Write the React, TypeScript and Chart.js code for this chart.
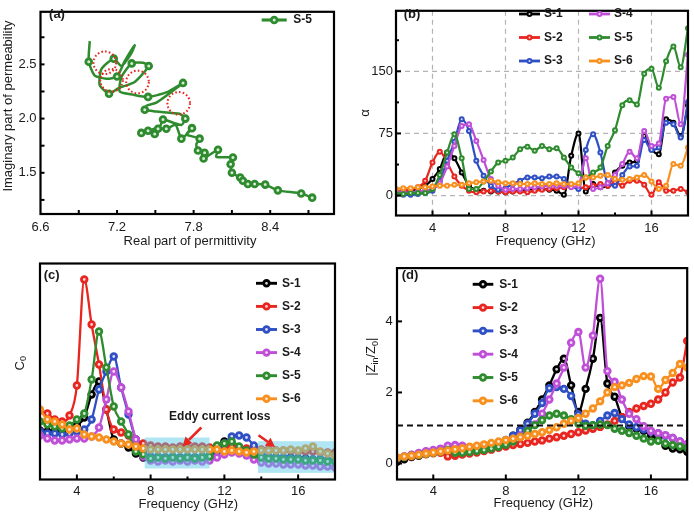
import React, { useEffect, useRef } from "react";
import { Chart, registerables } from "chart.js";

Chart.register(...registerables);

const FONT = '"Liberation Sans", Arial, Helvetica, sans-serif';

const FREQ = [2.0, 2.4, 2.8, 3.2, 3.6, 4.0, 4.4, 4.8, 5.2, 5.6, 6.0, 6.4, 6.8, 7.2, 7.6, 8.0, 8.4, 8.8, 9.2, 9.6, 10.0, 10.4, 10.8, 11.2, 11.6, 12.0, 12.4, 12.8, 13.2, 13.6, 14.0, 14.4, 14.8, 15.2, 15.6, 16.0, 16.4, 16.8, 17.2, 17.6, 18.0];
const SERIES = ["S-1", "S-2", "S-3", "S-4", "S-5", "S-6"];
const COLORS = ["#000000", "#e8251f", "#2f4fc4", "#c04fd8", "#2e8b2e", "#f7901e"];
const TINTS = ["#d9d9d9", "#fbd6d4", "#d8def4", "#f3def8", "#d8ead8", "#feebd5"];

// (a) Cole-Cole-like path of S-5
const A_REAL = [6.986, 6.978, 7.025, 7.117, 7.2, 7.26, 7.338, 7.312, 7.234, 7.174, 7.077, 7.064, 7.137, 7.208, 7.338, 7.448, 7.404, 7.315, 7.234, 7.221, 7.325, 7.443, 7.586, 7.717, 7.508, 7.43, 7.417, 7.508, 7.69, 7.735, 7.704, 7.586, 7.56, 7.534, 7.39, 7.443, 7.495, 7.521, 7.586, 7.659, 7.704, 7.756, 7.787, 7.743, 7.847, 7.821, 7.834, 7.886, 7.878, 7.938, 7.991, 7.977, 8.108, 8.09, 8.1, 8.165, 8.186, 8.225, 8.278, 8.361, 8.46, 8.643, 8.729];
const A_IMAG = [2.715, 2.524, 2.397, 2.368, 2.388, 2.529, 2.676, 2.603, 2.485, 2.553, 2.456, 2.309, 2.229, 2.279, 2.338, 2.485, 2.515, 2.509, 2.382, 2.25, 2.221, 2.2, 2.241, 2.329, 2.147, 2.118, 2.082, 2.065, 2.044, 2.0, 1.941, 1.985, 1.991, 1.926, 1.868, 1.888, 1.859, 1.906, 1.906, 1.941, 1.815, 1.868, 1.912, 1.853, 1.815, 1.765, 1.706, 1.685, 1.632, 1.676, 1.712, 1.647, 1.641, 1.579, 1.5, 1.456, 1.426, 1.397, 1.397, 1.391, 1.338, 1.309, 1.271];
const A_MARK = [0, 1, 0, 0, 1, 0, 0, 0, 0, 1, 0, 0, 1, 0, 0, 1, 0, 1, 0, 0, 0, 1, 0, 1, 0, 0, 1, 0, 0, 1, 0, 0, 1, 0, 1, 1, 1, 1, 1, 0, 1, 0, 1, 0, 1, 0, 1, 1, 1, 0, 1, 0, 1, 1, 1, 1, 1, 1, 1, 1, 1, 1, 1];
const A_CIRCLE_REAL = [7.104, 7.157, 7.36, 7.683];
const A_CIRCLE_IMAG = [2.515, 2.353, 2.338, 2.141];

// (b) attenuation constant alpha
const B_S1 = [4, 5, 6, 8, 12, 20, 32, 52, 45, 28, 12, 7, 6, 5, 5, 4, 5, 6, 8, 7, 8, 7, 6, 1, 48, 75, 5, 14, 10, 12, 28, 36, 40, 42, 72, 56, 50, 92, 88, 72, 109];
const B_S2 = [5, 6, 8, 10, 18, 40, 53, 40, 23, 12, 6, 4, 5, 6, 5, 4, 5, 5, 4, 6, 7, 8, 9, 10, 11, 9, 10, 12, 14, 12, 16, 12, 18, 18, 13, 1, 16, 6, 6, 8, 4];
const B_S3 = [2, 1, 1, 2, 3, 6, 18, 42, 65, 92, 78, 42, 24, 12, 7, 9, 14, 18, 22, 22, 21, 23, 23, 20, 12, 8, 55, 74, 52, 15, 12, 25, 35, 36, 67, 55, 58, 88, 86, 70, 113];
const B_S4 = [5, 4, 4, 5, 6, 8, 15, 35, 60, 84, 86, 66, 43, 20, 12, 7, 8, 8, 9, 10, 11, 12, 12, 12, 10, 12, 45, 8, 10, 15, 25, 38, 53, 45, 78, 60, 63, 117, 119, 86, 170];
const B_S5 = [3, 2, 3, 3, 3, 8, 25, 52, 74, 45, 8, 8, 17, 29, 40, 42, 46, 56, 59, 54, 60, 56, 57, 46, 34, 27, 22, 28, 34, 60, 79, 109, 115, 110, 147, 153, 130, 162, 180, 155, 202];
const B_S6 = [8, 9, 9, 10, 10, 11, 12, 12, 13, 13, 15, 16, 17, 18, 16, 15, 15, 14, 14, 15, 14, 14, 15, 14, 14, 15, 22, 22, 24, 25, 20, 19, 20, 22, 25, 17, 8, 12, 38, 36, 58];

// (c) C0 (arbitrary units)
const C_S1 = [4.9, 4.8, 4.8, 4.7, 4.9, 5.4, 6.2, 8.5, 9.8, 7.0, 4.0, 3.6, 3.2, 2.6, 2.2, 2.1, 2.1, 2.2, 2.1, 2.2, 2.1, 2.2, 2.2, 2.3, 3.3, 3.8, 3.2, 2.9, 2.6, 2.4, 2.3, 2.2, 2.2, 2.1, 2.2, 2.1, 2.1, 2.0, 2.0, 1.9, 1.9];
const C_S2 = [6.9, 6.6, 6.0, 5.8, 6.4, 9.4, 20.0, 15.5, 11.5, 7.0, 5.0, 4.7, 4.4, 4.0, 3.6, 3.4, 3.3, 3.3, 3.2, 3.3, 3.2, 3.3, 3.3, 3.2, 3.3, 3.2, 3.3, 3.2, 3.1, 3.1, 3.0, 3.0, 2.9, 2.9, 2.9, 2.8, 2.8, 2.8, 2.7, 2.7, 2.7];
const C_S3 = [4.8, 4.6, 4.6, 4.5, 4.6, 4.8, 5.0, 6.0, 9.0, 10.8, 12.3, 9.2, 6.5, 4.0, 2.7, 2.3, 2.3, 2.2, 2.3, 2.2, 2.3, 2.2, 2.3, 2.4, 2.8, 3.6, 4.3, 4.4, 4.2, 3.4, 2.6, 2.3, 2.2, 2.2, 2.1, 2.1, 2.0, 2.0, 2.0, 1.9, 1.9];
const C_S4 = [4.4, 4.1, 3.9, 3.9, 4.0, 4.1, 4.1, 4.3, 5.2, 8.0, 10.8, 9.2, 6.8, 4.0, 2.3, 1.9, 1.8, 1.9, 1.8, 1.9, 1.8, 1.9, 1.8, 1.9, 2.2, 2.5, 2.7, 2.6, 2.4, 2.0, 1.7, 1.6, 1.6, 1.5, 1.5, 1.5, 1.4, 1.4, 1.3, 1.3, 1.2];
const C_S5 = [5.8, 5.5, 5.3, 5.1, 5.4, 6.0, 6.6, 10.0, 14.8, 11.2, 7.3, 5.8, 4.5, 2.8, 2.5, 2.1, 2.2, 2.1, 2.2, 2.1, 2.2, 2.1, 2.2, 2.3, 3.4, 3.6, 3.8, 3.3, 2.9, 2.5, 2.2, 2.1, 2.1, 2.0, 2.0, 2.0, 1.9, 1.9, 1.9, 1.8, 1.8];
const C_S6 = [7.0, 6.0, 5.8, 5.5, 5.0, 5.1, 4.5, 4.3, 4.2, 4.0, 3.8, 3.6, 3.5, 3.3, 3.1, 3.0, 3.0, 3.0, 3.0, 3.0, 3.0, 3.0, 3.0, 3.0, 3.0, 2.8, 2.9, 2.8, 2.7, 2.8, 2.9, 2.9, 2.9, 2.9, 3.0, 2.9, 3.1, 3.3, 2.8, 2.6, 2.4];
const C_BOX_F = [[7.68, 11.2], [13.82, 18.0]];
const C_BOX_V = [[1.1, 4.2], [0.66, 3.83]];

// (d) |Zin/Z0|
const D_S1 = [0.05, 0.12, 0.18, 0.22, 0.27, 0.31, 0.35, 0.4, 0.42, 0.4, 0.38, 0.4, 0.43, 0.48, 0.55, 0.65, 0.78, 0.95, 1.15, 1.45, 1.8, 2.2, 2.65, 2.95, 2.2, 1.45, 2.1, 2.95, 4.1, 2.25, 1.88, 1.3, 1.05, 0.98, 0.92, 0.8, 0.7, 0.5, 0.42, 0.4, 0.33];
const D_S2 = [0.15, 0.18, 0.2, 0.23, 0.26, 0.29, 0.3, 0.2, 0.22, 0.25, 0.28, 0.31, 0.35, 0.39, 0.44, 0.48, 0.52, 0.55, 0.58, 0.62, 0.65, 0.7, 0.74, 0.78, 0.83, 0.88, 0.93, 0.98, 1.03, 1.1, 1.2, 1.3, 1.45, 1.55, 1.62, 1.68, 1.8, 2.0, 2.28, 2.42, 3.45];
const D_S3 = [0.15, 0.2, 0.24, 0.28, 0.32, 0.36, 0.4, 0.44, 0.42, 0.4, 0.4, 0.42, 0.46, 0.5, 0.57, 0.66, 0.78, 0.93, 1.12, 1.4, 1.7, 2.12, 2.15, 2.1, 1.9, 1.38, 1.12, 1.08, 1.2, 1.35, 1.42, 1.25, 1.1, 1.02, 0.96, 0.9, 0.85, 0.78, 0.72, 0.62, 0.54];
const D_S4 = [0.15, 0.2, 0.25, 0.3, 0.35, 0.38, 0.42, 0.5, 0.52, 0.5, 0.45, 0.44, 0.46, 0.48, 0.52, 0.58, 0.66, 0.78, 0.92, 1.1, 1.4, 1.8, 2.25, 2.7, 3.4, 3.7, 2.7, 3.6, 5.2, 2.6, 2.3, 1.8, 1.4, 1.25, 1.05, 0.92, 0.85, 0.8, 0.72, 0.62, 0.55];
const D_S5 = [0.15, 0.18, 0.21, 0.24, 0.27, 0.3, 0.33, 0.38, 0.3, 0.3, 0.32, 0.35, 0.38, 0.42, 0.47, 0.53, 0.62, 0.75, 0.92, 1.08, 1.22, 1.35, 1.4, 1.35, 1.25, 1.12, 1.06, 1.08, 1.1, 1.08, 0.98, 0.92, 0.86, 0.78, 0.7, 0.62, 0.64, 0.56, 0.52, 0.48, 0.44];
const D_S6 = [0.17, 0.2, 0.22, 0.25, 0.28, 0.31, 0.34, 0.37, 0.4, 0.43, 0.47, 0.5, 0.54, 0.58, 0.62, 0.66, 0.7, 0.74, 0.78, 0.83, 0.88, 0.94, 1.02, 1.12, 1.2, 1.28, 1.4, 1.55, 1.75, 2.0, 2.15, 2.2, 2.27, 2.38, 2.46, 2.45, 2.1, 2.35, 2.55, 2.8, 2.7];
const D_REF = 1.07;

type Style = { r: number; bw: number; lw: number };

function seriesDatasets(values: number[][], st: Style) {
  return values.map((arr, i) => ({
    label: SERIES[i],
    data: FREQ.map((f, k) => ({ x: f, y: arr[k] })),
    borderColor: COLORS[i],
    backgroundColor: TINTS[i],
    pointBackgroundColor: TINTS[i],
    pointBorderColor: COLORS[i],
    pointRadius: st.r,
    pointBorderWidth: st.bw,
    borderWidth: st.lw,
    cubicInterpolationMode: "monotone",
    fill: false,
    order: 6 - i,
  }));
}

function xScale(min: number, max: number, ticks: number[], fmt: (v: number) => string, height: number, padding: number) {
  return {
    type: "linear",
    min,
    max,
    afterBuildTicks: (s: any) => {
      s.ticks = ticks.map((v) => ({ value: v }));
    },
    afterFit: (s: any) => {
      s.height = height;
    },
    grid: { display: false, drawTicks: false },
    border: { display: false },
    ticks: {
      padding,
      color: "#1a1a1a",
      font: { family: FONT, size: 13 },
      maxRotation: 0,
      minRotation: 0,
      autoSkip: false,
      callback: (v: any) => fmt(Number(v)),
    },
  };
}

function yScale(min: number, max: number, ticks: number[], fmt: (v: number) => string, width: number, padding: number, show = true) {
  return {
    type: "linear",
    min,
    max,
    afterBuildTicks: (s: any) => {
      s.ticks = ticks.map((v) => ({ value: v }));
    },
    afterFit: (s: any) => {
      s.width = width;
    },
    grid: { display: false, drawTicks: false },
    border: { display: false },
    ticks: {
      display: show,
      padding,
      color: "#1a1a1a",
      font: { family: FONT, size: 13 },
      autoSkip: false,
      callback: (v: any) => fmt(Number(v)),
    },
  };
}

function frame(chart: any) {
  const { ctx, chartArea: a } = chart;
  ctx.save();
  ctx.strokeStyle = "#000";
  ctx.lineWidth = 2.2;
  ctx.strokeRect(a.left, a.top, a.right - a.left, a.bottom - a.top);
  ctx.restore();
}

function xTicks(chart: any, vals: number[], len: number) {
  const { ctx, chartArea: a, scales } = chart;
  ctx.save();
  ctx.strokeStyle = "#000";
  ctx.lineWidth = 2;
  vals.forEach((v) => {
    const p = scales.x.getPixelForValue(v);
    ctx.beginPath();
    ctx.moveTo(p, a.bottom);
    ctx.lineTo(p, a.bottom - len);
    ctx.stroke();
  });
  ctx.restore();
}

function yTicks(chart: any, vals: number[], len: number) {
  const { ctx, chartArea: a, scales } = chart;
  ctx.save();
  ctx.strokeStyle = "#000";
  ctx.lineWidth = 2;
  vals.forEach((v) => {
    const p = scales.y.getPixelForValue(v);
    ctx.beginPath();
    ctx.moveTo(a.left, p);
    ctx.lineTo(a.left + len, p);
    ctx.stroke();
  });
  ctx.restore();
}

function text(ctx: any, s: string, x: number, y: number, size: number, bold = false, align = "center", rotate = false) {
  ctx.save();
  ctx.translate(x, y);
  if (rotate) ctx.rotate(-Math.PI / 2);
  ctx.font = `${bold ? "bold " : ""}${size}px ${FONT}`;
  ctx.fillStyle = "#1a1a1a";
  ctx.textAlign = align;
  ctx.textBaseline = "middle";
  ctx.fillText(s, 0, 0);
  ctx.restore();
}

function rich(ctx: any, parts: { t: string; sub?: boolean }[], cx: number, cy: number, size: number, rotate: boolean) {
  ctx.save();
  ctx.translate(cx, cy);
  if (rotate) ctx.rotate(-Math.PI / 2);
  ctx.fillStyle = "#1a1a1a";
  ctx.textBaseline = "middle";
  ctx.textAlign = "left";
  const fonts = parts.map((p) => `${p.sub ? Math.round(size * 0.72) : size}px ${FONT}`);
  const widths = parts.map((p, i) => {
    ctx.font = fonts[i];
    return ctx.measureText(p.t).width;
  });
  const total = widths.reduce((a, b) => a + b, 0);
  let x = -total / 2;
  parts.forEach((p, i) => {
    ctx.font = fonts[i];
    ctx.fillText(p.t, x, p.sub ? size * 0.3 : 0);
    x += widths[i];
  });
  ctx.restore();
}

function legendItem(ctx: any, i: number, x0: number, x1: number, y: number, tx: number, st: Style) {
  ctx.save();
  ctx.strokeStyle = COLORS[i];
  ctx.lineWidth = st.lw + 0.6;
  ctx.beginPath();
  ctx.moveTo(x0, y);
  ctx.lineTo(x1, y);
  ctx.stroke();
  ctx.beginPath();
  ctx.arc((x0 + x1) / 2, y, st.r, 0, Math.PI * 2);
  ctx.fillStyle = TINTS[i];
  ctx.fill();
  ctx.lineWidth = st.bw;
  ctx.stroke();
  ctx.restore();
  text(ctx, SERIES[i], tx, y, 12, true, "left");
}

function arrow(ctx: any, x0: number, y0: number, x1: number, y1: number) {
  const ang = Math.atan2(y1 - y0, x1 - x0);
  const head = 9;
  const hw = 4.8;
  const bx = x1 - head * Math.cos(ang);
  const by = y1 - head * Math.sin(ang);
  ctx.save();
  ctx.strokeStyle = "#e8251f";
  ctx.fillStyle = "#e8251f";
  ctx.lineWidth = 2.6;
  ctx.beginPath();
  ctx.moveTo(x0, y0);
  ctx.lineTo(bx, by);
  ctx.stroke();
  ctx.beginPath();
  ctx.moveTo(x1, y1);
  ctx.lineTo(bx + hw * Math.sin(ang), by - hw * Math.cos(ang));
  ctx.lineTo(bx - hw * Math.sin(ang), by + hw * Math.cos(ang));
  ctx.closePath();
  ctx.fill();
  ctx.restore();
}

const baseOptions = (pad: any) => ({
  responsive: false,
  animation: false,
  devicePixelRatio: 1,
  events: [],
  layout: { padding: pad },
  plugins: { legend: { display: false }, tooltip: { enabled: false } },
});

const ST_A: Style = { r: 2.9, bw: 2.8, lw: 2.5 };
const ST_B: Style = { r: 2.0, bw: 2.0, lw: 2.2 };
const ST_C: Style = { r: 2.8, bw: 2.8, lw: 2.3 };

function configA() {
  return {
    type: "line",
    data: {
      datasets: [
        {
          label: "S-5",
          data: A_REAL.map((r, k) => ({ x: r, y: A_IMAG[k] })),
          borderColor: COLORS[4],
          borderWidth: ST_A.lw,
          tension: 0.2,
          pointRadius: A_MARK.map((m) => (m ? ST_A.r : 0)),
          pointBorderWidth: ST_A.bw,
          pointBackgroundColor: TINTS[4],
          pointBorderColor: COLORS[4],
          fill: false,
        },
      ],
    },
    options: {
      ...baseOptions({ left: 0, right: 13, top: 1, bottom: 0 }),
      scales: {
        x: xScale(6.6, 8.9, [6.6, 7.2, 7.8, 8.4], (v) => v.toFixed(1), 42, 6),
        y: yScale(1.12, 2.985, [1.5, 2.0, 2.5], (v) => v.toFixed(1), 40.5, 4),
      },
    },
    plugins: [
      {
        id: "decorA",
        afterDraw(chart: any) {
          const { ctx, scales } = chart;
          ctx.save();
          ctx.strokeStyle = "#e8251f";
          ctx.lineWidth = 2;
          ctx.setLineDash([1.6, 2.2]);
          A_CIRCLE_REAL.forEach((r, i) => {
            ctx.beginPath();
            ctx.arc(scales.x.getPixelForValue(r), scales.y.getPixelForValue(A_CIRCLE_IMAG[i]), 11.3, 0, Math.PI * 2);
            ctx.stroke();
          });
          ctx.restore();
          xTicks(chart, [6.9, 7.2, 7.5, 7.8, 8.1, 8.4, 8.7], 4);
          yTicks(chart, [1.25, 1.5, 1.75, 2.0, 2.25, 2.5, 2.75], 4);
          frame(chart);
          legendItem(ctx, 4, 261.7, 286.7, 20, 293.3, ST_A);
          text(ctx, "(a)", 57, 14, 13, true);
          text(ctx, "Real part of permittivity", 190, 241, 13);
          text(ctx, "Imaginary part of permeability", 8, 106, 13, false, "center", true);
        },
      },
    ],
  };
}

function configB() {
  return {
    type: "line",
    data: { datasets: seriesDatasets([B_S1, B_S2, B_S3, B_S4, B_S5, B_S6], ST_B) },
    options: {
      ...baseOptions({ left: 0, right: 3, top: 1, bottom: 0 }),
      scales: {
        x: xScale(2, 18, [4, 8, 12, 16], (v) => String(v), 40.5, 5),
        y: yScale(-24, 223, [0, 75, 150], (v) => String(v), 49, 3),
      },
    },
    plugins: [
      {
        id: "decorB",
        beforeDatasetsDraw(chart: any) {
          const { ctx, chartArea: a, scales } = chart;
          ctx.save();
          ctx.strokeStyle = "#b4b4b4";
          ctx.lineWidth = 1.2;
          ctx.setLineDash([5, 4]);
          [4, 8, 12, 16].forEach((v) => {
            const p = scales.x.getPixelForValue(v);
            ctx.beginPath();
            ctx.moveTo(p, a.top);
            ctx.lineTo(p, a.bottom);
            ctx.stroke();
          });
          [0, 75, 150].forEach((v) => {
            const p = scales.y.getPixelForValue(v);
            ctx.beginPath();
            ctx.moveTo(a.left, p);
            ctx.lineTo(a.right, p);
            ctx.stroke();
          });
          ctx.restore();
        },
        afterDraw(chart: any) {
          const { ctx } = chart;
          xTicks(chart, [4, 8, 12, 16], 5);
          xTicks(chart, [6, 10, 14], 3);
          yTicks(chart, [0, 75, 150], 5);
          yTicks(chart, [37.5, 112.5, 187.5], 3);
          frame(chart);
          [0, 1, 2].forEach((i) => legendItem(ctx, i, 172, 193, 14 + 23.5 * i, 197, ST_B));
          [3, 4, 5].forEach((i) => legendItem(ctx, i, 242, 263, 14 + 23.5 * (i - 3), 267, ST_B));
          text(ctx, "(b)", 65, 14, 13, true);
          text(ctx, "Frequency (GHz)", 198.7, 241.5, 13);
          text(ctx, "\u03b1", 18, 113, 13, false, "center", true);
        },
      },
    ],
  };
}

function configC() {
  return {
    type: "line",
    data: { datasets: seriesDatasets([C_S1, C_S2, C_S3, C_S4, C_S5, C_S6], ST_C) },
    options: {
      ...baseOptions({ left: 0, right: 12, top: 7.5, bottom: 0 }),
      scales: {
        x: xScale(2, 18, [4, 8, 12, 16], (v) => String(v), 33.5, 4),
        y: yScale(0, 21.6, [], (v) => String(v), 40, 3, false),
      },
    },
    plugins: [
      {
        id: "decorC",
        afterDatasetsDraw(chart: any) {
          const { ctx, chartArea: a, scales } = chart;
          ctx.save();
          ctx.fillStyle = "rgba(80, 200, 230, 0.45)";
          C_BOX_F.forEach((fr, i) => {
            const x0 = scales.x.getPixelForValue(fr[0]);
            const x1 = Math.min(scales.x.getPixelForValue(fr[1]), a.right);
            const y0 = scales.y.getPixelForValue(C_BOX_V[i][1]);
            const y1 = scales.y.getPixelForValue(C_BOX_V[i][0]);
            ctx.fillRect(x0, y0, x1 - x0, y1 - y0);
          });
          ctx.restore();
        },
        afterDraw(chart: any) {
          const { ctx, scales } = chart;
          const X = (v: number) => scales.x.getPixelForValue(v);
          const Y = (v: number) => scales.y.getPixelForValue(v);
          arrow(ctx, X(10.75), Y(5.2), X(9.73), Y(3.33));
          arrow(ctx, X(13.85), Y(4.43), X(14.75), Y(3.26));
          text(ctx, "Eddy current loss", X(11.75), Y(6.26), 12, true);
          xTicks(chart, [4, 8, 12, 16], 5);
          xTicks(chart, [6, 10, 14], 3);
          frame(chart);
          SERIES.forEach((_, i) => legendItem(ctx, i, 256, 277, 27.3 + 23.1 * i, 282, ST_C));
          text(ctx, "(c)", 51.7, 19, 13, true);
          text(ctx, "Frequency (GHz)", 188.3, 248.3, 13);
          rich(ctx, [{ t: "C" }, { t: "0", sub: true }], 20, 107.3, 13, true);
        },
      },
    ],
  };
}

function configD() {
  return {
    type: "line",
    data: { datasets: seriesDatasets([D_S1, D_S2, D_S3, D_S4, D_S5, D_S6], ST_C) },
    options: {
      ...baseOptions({ left: 0, right: 3.5, top: 7.5, bottom: 0 }),
      scales: {
        x: xScale(2, 18, [4, 8, 12, 16], (v) => String(v), 33.5, 4),
        y: yScale(-0.45, 5.5, [0, 2, 4], (v) => String(v), 50, 4.3),
      },
    },
    plugins: [
      {
        id: "decorD",
        afterDatasetsDraw(chart: any) {
          const { ctx, chartArea: a, scales } = chart;
          const p = scales.y.getPixelForValue(D_REF);
          ctx.save();
          ctx.strokeStyle = "#111";
          ctx.lineWidth = 2;
          ctx.setLineDash([6, 4]);
          ctx.beginPath();
          ctx.moveTo(a.left, p);
          ctx.lineTo(a.right, p);
          ctx.stroke();
          ctx.restore();
        },
        afterDraw(chart: any) {
          const { ctx } = chart;
          xTicks(chart, [4, 8, 12, 16], 5);
          yTicks(chart, [0, 2, 4], 5);
          frame(chart);
          SERIES.forEach((_, i) => legendItem(ctx, i, 125.7, 146.3, 28.3 + 23.3 * i, 152.3, ST_C));
          text(ctx, "(d)", 63, 19, 13, true);
          text(ctx, "Frequency (GHz)", 196.3, 247.5, 13);
          rich(ctx, [{ t: "|Z" }, { t: "in", sub: true }, { t: "/Z" }, { t: "0", sub: true }, { t: "|" }], 24.7, 100.7, 13, true);
        },
      },
    ],
  };
}

function Panel({ left, top, width, height, make }: { left: number; top: number; width: number; height: number; make: () => any }) {
  const ref = useRef<HTMLCanvasElement>(null);
  useEffect(() => {
    const chart = new Chart(ref.current as HTMLCanvasElement, make());
    return () => chart.destroy();
  }, []);
  return <canvas ref={ref} width={width} height={height} style={{ position: "absolute", left, top, width, height, display: "block" }} />;
}

export default function App() {
  return (
    <div style={{ position: "absolute", left: 0, top: 0, width: 694, height: 513, background: "#fff", overflow: "hidden" }}>
      <Panel left={0} top={0} width={347} height={256} make={configA} />
      <Panel left={347} top={0} width={347} height={256} make={configB} />
      <Panel left={0} top={256} width={347} height={257} make={configC} />
      <Panel left={347} top={256} width={347} height={257} make={configD} />
    </div>
  );
}
